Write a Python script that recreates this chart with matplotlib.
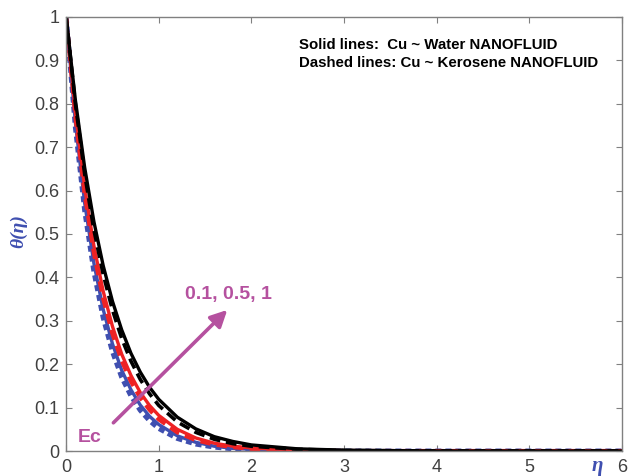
import matplotlib
matplotlib.use("Agg")
import matplotlib.pyplot as plt

plt.rcParams['font.family'] = ['Liberation Sans', 'DejaVu Sans']

eta = [0, 0.1, 0.2, 0.3, 0.4, 0.5, 0.6, 0.7, 0.8, 0.9, 1.0, 1.2, 1.4, 1.6, 1.8, 2.0, 2.5, 3.0, 4.0, 5.0, 6.0]

# Cu ~ Water (solid)
water_ec01 = [1, 0.756, 0.571, 0.432, 0.326, 0.247, 0.186, 0.141, 0.106, 0.080, 0.061, 0.035, 0.020, 0.011, 0.006, 0.004, 0.001, 0, 0, 0, 0]
water_ec05 = [1, 0.779, 0.607, 0.472, 0.368, 0.287, 0.223, 0.174, 0.135, 0.105, 0.082, 0.050, 0.030, 0.018, 0.011, 0.007, 0.002, 0, 0, 0, 0]
water_ec1 = [1, 0.808, 0.653, 0.528, 0.427, 0.345, 0.279, 0.225, 0.182, 0.147, 0.119, 0.078, 0.051, 0.033, 0.022, 0.014, 0.005, 0.002, 0, 0, 0]

# Cu ~ Kerosene (dashed)
ker_ec01 = [1, 0.745, 0.554, 0.413, 0.307, 0.229, 0.170, 0.127, 0.094, 0.070, 0.052, 0.029, 0.016, 0.009, 0.005, 0.003, 0, 0, 0, 0, 0]
ker_ec05 = [1, 0.770, 0.592, 0.456, 0.351, 0.270, 0.208, 0.160, 0.123, 0.095, 0.073, 0.043, 0.025, 0.015, 0.009, 0.005, 0.001, 0, 0, 0, 0]
ker_ec1 = [1, 0.799, 0.638, 0.509, 0.407, 0.325, 0.259, 0.207, 0.165, 0.132, 0.105, 0.067, 0.043, 0.027, 0.017, 0.011, 0.004, 0.001, 0, 0, 0]

x_ticks = [0, 1, 2, 3, 4, 5, 6]
y_ticks = [0, 0.1, 0.2, 0.3, 0.4, 0.5, 0.6, 0.7, 0.8, 0.9, 1]
y_tick_labels = ['0', '0.1', '0.2', '0.3', '0.4', '0.5', '0.6', '0.7', '0.8', '0.9', '1']

BLUE = '#3f4fb0'
RED = '#ee2224'
BLACK = '#000000'
MAG = '#b5519f'

fig = plt.figure(figsize=(6.3, 4.76), dpi=100)
ax = fig.add_axes([0.105, 0.0525, 0.882, 0.912])

ax.plot(eta, water_ec01, color=BLUE, lw=2.4)
ax.plot(eta, ker_ec01, color=BLUE, lw=3.6, ls=(0, (1.2, 0.8)))
ax.plot(eta, water_ec05, color=RED, lw=2.4)
ax.plot(eta, ker_ec05, color=RED, lw=3.0, ls=(0, (2.5, 1.5)))
ax.plot(eta, water_ec1, color=BLACK, lw=2.4)
ax.plot(eta, ker_ec1, color=BLACK, lw=2.6, ls=(0, (3, 1.6)))

ax.set_xlim(0, 6)
ax.set_ylim(0, 1)
ax.set_xticks(x_ticks)
ax.set_xticklabels([str(t) for t in x_ticks])
ax.set_yticks(y_ticks)
ax.set_yticklabels(y_tick_labels)
ax.tick_params(direction='in', top=True, right=True, length=4, width=0.8,
               color='#808080', labelsize=13, labelcolor='#404040')
ax.tick_params(axis='x', pad=6)
ax.tick_params(axis='y', pad=5)
for s in ax.spines.values():
    s.set_color('#808080')
    s.set_linewidth(1.0)

ax.annotate('', xy=(1.74, 0.325), xytext=(0.51, 0.065),
            arrowprops=dict(arrowstyle='-|>,head_length=1.0,head_width=0.5',
                            color=MAG, lw=2.6, shrinkA=0, shrinkB=0))
ax.text(1.28, 0.36, '0.1, 0.5, 1', color=MAG, fontsize=14, fontweight='bold',
        ha='left', va='center')
ax.text(0.13, 0.032, 'Ec', color=MAG, fontsize=14, fontweight='bold',
        ha='left', va='center')

ax.text(2.51, 0.935, 'Solid lines:  Cu ~ Water NANOFLUID', fontsize=10.8,
        fontweight='bold', ha='left', va='center')
ax.text(2.51, 0.894, 'Dashed lines: Cu ~ Kerosene NANOFLUID', fontsize=10.8,
        fontweight='bold', ha='left', va='center')

fig.text(0.03, 0.515, 'θ(η)', rotation=90, color=BLUE, fontsize=14,
         fontweight='bold', fontstyle='italic', family=['Liberation Serif', 'DejaVu Serif'],
         ha='center', va='center')
fig.text(0.948, 0.022, 'η', color=BLUE, fontsize=15, fontweight='bold',
         fontstyle='italic', family=['Liberation Serif', 'DejaVu Serif'],
         ha='center', va='center')

fig.savefig('out.png', dpi=100)
